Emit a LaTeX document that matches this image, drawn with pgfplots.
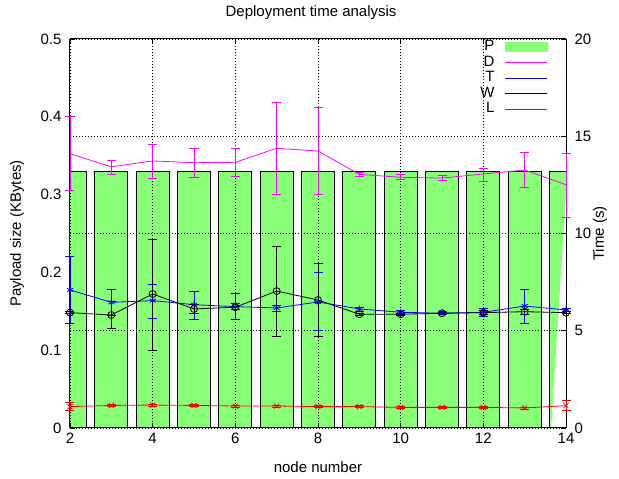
\documentclass[border=0pt]{standalone}
\usepackage{pgfplots}
\pgfplotsset{compat=1.18}
\usepackage{pgfplotstable}
\usepackage{fontspec}
\setmainfont{Liberation Sans}
\definecolor{barg}{RGB}{136,255,119}
\definecolor{dmag}{RGB}{255,0,255}
\definecolor{tblue}{RGB}{0,0,255}

\pgfplotstableread{
x y ep em
2 14.10 1.90 1.86
3 13.43 0.32 0.37
4 13.73 0.87 0.89
5 13.64 0.72 0.74
6 13.66 0.72 0.72
7 14.38 2.37 2.36
8 14.24 2.25 2.22
9 13.04 0.10 0.10
10 12.89 0.13 0.13
11 12.85 0.13 0.13
12 13.06 0.31 0.36
13 13.26 0.93 0.87
14 12.51 1.61 1.68
}\Ddata

\pgfplotstableread{
x y ep em
2 7.10 1.71 1.72
3 6.46 0.67 0.65
4 6.55 0.85 0.91
5 6.34 0.69 0.75
6 6.24 0.16 0.16
7 6.17 0.15 0.15
8 6.48 1.54 1.44
9 6.12 0.10 0.10
10 5.95 0.10 0.10
11 5.90 0.08 0.08
12 5.95 0.20 0.20
13 6.27 0.86 0.89
14 6.07 0.10 0.10
}\Tdata

\pgfplotstableread{
x y ep em
2 5.93 0.05 0.05
3 5.81 0.68 0.68
4 6.89 2.83 2.88
5 6.12 0.25 0.25
6 6.21 0.72 0.62
7 7.04 2.28 2.31
8 6.58 1.89 1.88
9 5.85 0.05 0.05
10 5.85 0.05 0.05
11 5.90 0.05 0.05
12 5.93 0.10 0.10
13 5.98 0.12 0.12
14 5.93 0.05 0.05
}\Wdata

\pgfplotstableread{
x y ep em
2 1.10 0.22 0.20
3 1.16 0.05 0.05
4 1.18 0.05 0.05
5 1.16 0.05 0.05
6 1.13 0.05 0.05
7 1.13 0.05 0.05
8 1.10 0.05 0.05
9 1.10 0.05 0.05
10 1.06 0.05 0.05
11 1.06 0.05 0.05
12 1.06 0.05 0.05
13 1.03 0.05 0.05
14 1.15 0.29 0.22
}\Ldata

\begin{document}
\begin{tikzpicture}
\useasboundingbox (-70pt,-51pt) rectangle (549pt,428pt);
\pgfplotsset{
  every axis/.append style={
    scale only axis, width=496pt, height=389pt,
    xmin=2, xmax=14,
    xtick={2,4,6,8,10,12,14},
    font=\fontsize{15}{18}\selectfont,
    tick label style={font=\fontsize{15}{18}\selectfont},
    /pgf/number format/assume math mode=true,
    major tick length=5pt,
    tick style={black, line width=0.8pt},
    axis line style={line width=1pt},
    grid style={black, line width=0.7pt, dash pattern=on 1pt off 2pt},
    every axis title shift=0pt,
  }
}
\begin{axis}[
  axis y line*=left,
  ymin=0, ymax=0.5, ytick={0,0.1,0.2,0.3,0.4,0.5},
  yticklabel style={/pgf/number format/fixed, /pgf/number format/precision=1, xshift=-5pt},
  xticklabel style={yshift=-1.5pt},
  xlabel={node number}, ylabel={Payload size (KBytes)},
  xlabel style={at={(axis description cs:0.5,-0.1)}, anchor=center},
  ylabel style={at={(axis description cs:-0.107,0.5)}, anchor=center},
  title={Deployment time analysis},
  title style={at={(axis description cs:0.486,1.067)}, anchor=center},
]
\addplot[ybar, bar width=0.8, fill=barg, draw=black, line width=0.8pt]
  coordinates {(2,0.33)(3,0.33)(4,0.33)(5,0.33)(6,0.33)(7,0.33)(8,0.33)(9,0.33)(10,0.33)(11,0.33)(12,0.33)(13,0.33)};
\addplot[fill=barg, draw=none]
  coordinates {(13.6,0)(13.6,0.33)(14,0.33)(14,0.30)(13.64,0)};
\addplot[black, line width=0.8pt]
  coordinates {(13.6,0)(13.6,0.33)(14,0.33)};
\end{axis}
\begin{axis}[
  axis y line*=right,
  ymin=0, ymax=20, ytick={0,5,10,15,20},
  yticklabel style={xshift=5pt},
  xticklabels={},
  xmajorgrids, ymajorgrids,
  ylabel={Time (s)},
  ylabel style={at={(axis description cs:1.0685,0.5)}, anchor=center},
  clip=false,
  legend style={draw=none, fill=none, at={(axis description cs:0.9637,1.0)}, anchor=north east,
    inner sep=0pt, font=\fontsize{15}{16}\selectfont, row sep=0pt,
    nodes={inner sep=0.3pt, text height=11pt, text depth=4pt}},
  legend plot pos=right,
  legend cell align=right,
  legend image code/.code={\path (0pt,0pt); \draw[#1] (10pt,0pt) -- (52pt,0pt);},
]
\addlegendimage{legend image code/.code={\path (0pt,0pt); \fill[barg] (10pt,-4.5pt) rectangle (52pt,4.5pt);}}
\addlegendentry{P}
\addlegendimage{dmag, line width=1pt}
\addlegendentry{D}
\addlegendimage{tblue, line width=1pt}
\addlegendentry{T}
\addlegendimage{black, line width=1pt}
\addlegendentry{W}
\addlegendimage{red, line width=1pt}
\addlegendentry{L}

\addplot[forget plot, dmag, line width=0.8pt, mark=none,
  error bars/.cd, y dir=both, y explicit,
  error bar style={dmag, line width=0.8pt},
  error mark options={rotate=90, dmag, mark size=4.5pt, line width=0.8pt}]
  table[x=x, y=y, y error plus=ep, y error minus=em] {\Ddata};
\addplot[forget plot, tblue, line width=0.8pt, mark=asterisk, mark size=3.5pt,
  error bars/.cd, y dir=both, y explicit,
  error bar style={tblue, line width=0.8pt},
  error mark options={rotate=90, tblue, mark size=4.5pt, line width=0.8pt}]
  table[x=x, y=y, y error plus=ep, y error minus=em] {\Tdata};
\addplot[forget plot, black, line width=0.8pt, mark=o, mark size=3.5pt,
  error bars/.cd, y dir=both, y explicit,
  error bar style={black, line width=0.8pt},
  error mark options={rotate=90, black, mark size=4.5pt, line width=0.8pt}]
  table[x=x, y=y, y error plus=ep, y error minus=em] {\Wdata};
\addplot[forget plot, red, line width=0.8pt, mark=x, mark size=3.5pt,
  error bars/.cd, y dir=both, y explicit,
  error bar style={red, line width=0.8pt},
  error mark options={rotate=90, red, mark size=4.5pt, line width=0.8pt}]
  table[x=x, y=y, y error plus=ep, y error minus=em] {\Ldata};
\end{axis}
\end{tikzpicture}
\end{document}
